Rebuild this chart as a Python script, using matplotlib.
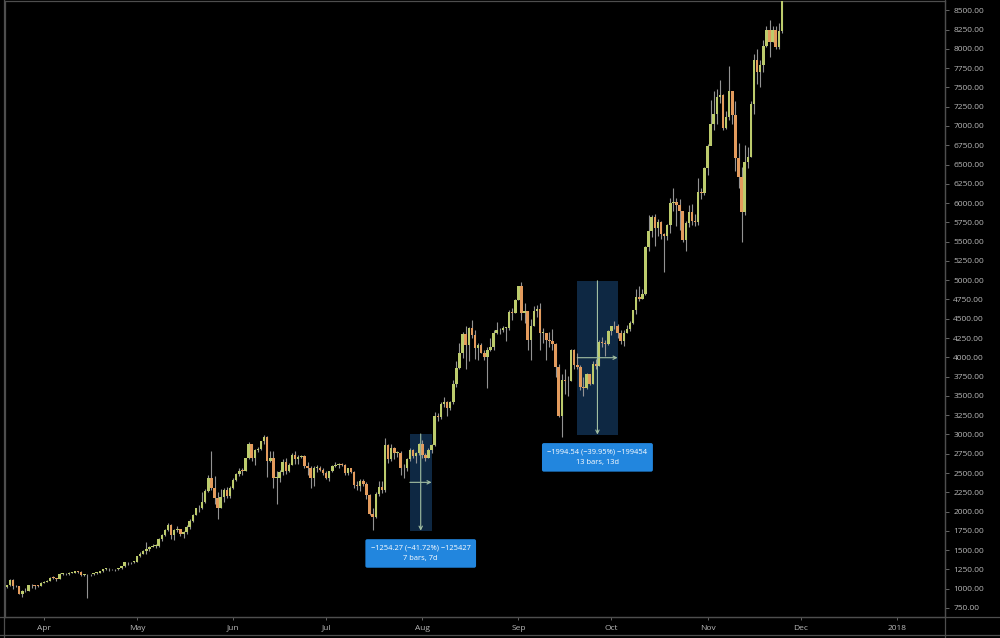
import numpy as np
import matplotlib
matplotlib.use('Agg')
import matplotlib.pyplot as plt
import matplotlib.dates as mdates
from matplotlib.lines import Line2D

# ---------------- data (daily candles, 2017-03-19 .. 2017-11-25) ----------------
first_open = 970

close_mar = [1022,1045,1115,1040,1030,935,965,970,1045,1045,1040,1035,1080]
high_mar  = [1055,1050,1120,1120,1050,1035,985,1005,1050,1060,1050,1045,1085]
low_mar   = [965,1015,1040,1000,1020,925,890,955,970,1015,1000,1025,1030]

close_apr = [1090,1100,1145,1140,1130,1195,1195,1185,1210,1210,1225,1220,1180,1185,1185,
             1185,1205,1210,1225,1255,1260,1250,1250,1250,1265,1290,1345,1340,1345,1350]
high_apr  = [1100,1110,1150,1160,1145,1200,1200,1200,1215,1215,1230,1230,1225,1195,1195,
             1190,1210,1215,1230,1260,1265,1265,1260,1255,1270,1300,1350,1350,1350,1365]
low_apr   = [1070,1085,1095,1125,1105,1130,1175,1175,1175,1200,1205,1210,1160,1170,880,
             1170,1180,1195,1205,1220,1240,1230,1240,1235,1245,1260,1285,1310,1325,1330]

close_may = [1420,1455,1490,1515,1535,1555,1555,1640,1700,1760,1820,1690,1760,1775,1710,1730,
             1800,1880,1960,2040,2045,2125,2265,2440,2300,2170,2050,2190,2280,2200,2300]
high_may  = [1425,1470,1500,1600,1560,1580,1580,1660,1715,1770,1850,1840,1770,1810,1780,1750,
             1830,1900,1970,2050,2080,2260,2290,2480,2790,2460,2250,2290,2300,2320,2330]
low_may   = [1345,1405,1450,1450,1490,1535,1530,1545,1615,1680,1750,1640,1630,1730,1680,1660,
             1710,1780,1870,1950,1990,2030,2110,2260,2280,2100,1900,2050,2120,2180,2180]

close_jun = [2410,2490,2530,2525,2690,2870,2690,2800,2810,2910,2970,2650,2700,2440,2440,
             2510,2640,2520,2600,2740,2680,2710,2720,2590,2570,2440,2570,2570,2540,2500]
high_jun  = [2440,2500,2560,2560,2700,2900,2880,2810,2840,2920,2990,2980,2790,2790,2520,
             2540,2680,2690,2630,2760,2780,2730,2740,2730,2640,2590,2590,2600,2590,2570]
low_jun   = [2290,2400,2460,2480,2520,2680,2650,2610,2770,2800,2880,2450,2640,2300,2100,
             2390,2470,2490,2510,2600,2620,2620,2690,2560,2480,2300,2330,2510,2520,2480]

close_jul = [2430,2520,2590,2610,2620,2610,2500,2560,2510,2340,2330,2400,2360,2220,1970,1930,
             2230,2320,2280,2860,2680,2830,2760,2760,2560,2560,2680,2800,2720,2760,2870]
high_jul  = [2520,2530,2600,2640,2630,2630,2620,2570,2570,2530,2400,2420,2420,2380,2230,2050,
             2250,2400,2400,2950,2870,2880,2840,2780,2780,2620,2690,2830,2810,2770,2890]
low_jul   = [2420,2400,2510,2580,2560,2590,2480,2480,2500,2300,2280,2270,2330,2160,1960,1760,
             1920,2200,2240,2260,2630,2650,2680,2710,2470,2440,2530,2660,2700,2630,2740]

close_aug = [2730,2700,2800,2860,3240,3230,3400,3420,3340,3420,3650,3860,4060,4300,4160,4380,
             4290,4120,4160,4060,4000,4090,4140,4320,4360,4350,4380,4380,4590,4580,4740]
high_aug  = [2930,2760,2820,2880,3290,3280,3420,3480,3440,3440,3710,3950,4180,4330,4400,4390,
             4480,4360,4190,4190,4100,4130,4250,4350,4460,4380,4400,4390,4620,4640,4750]
low_aug   = [2690,2650,2690,2760,2850,3180,3200,3360,3240,3320,3400,3620,3850,3990,3850,3950,
             4250,3980,3960,4050,3970,3600,4080,4100,4300,4300,4330,4210,4350,4480,4580]

close_sep = [4920,4580,4600,4230,4400,4600,4630,4320,4320,4230,4210,4170,3870,3240,3700,
             3690,3690,4090,3900,3880,3610,3600,3780,3660,3920,3890,4200,4190,4170,4340]
high_sep  = [4930,4980,4710,4600,4500,4670,4680,4700,4380,4320,4330,4370,4180,3920,3790,
             3850,3760,4110,4110,4050,3900,3750,3800,3790,3950,3980,4220,4260,4220,4360]
low_sep   = [4740,4480,4450,4100,3970,4400,4520,4100,4180,3960,4130,4100,3750,3220,2970,
             3520,3500,3690,3850,3850,3580,3500,3590,3640,3660,3850,3890,4140,4020,4160]

close_oct = [4400,4400,4310,4210,4320,4370,4440,4610,4780,4760,4820,5430,5640,5820,5680,5750,
             5600,5570,5710,6000,6010,5980,5900,5520,5740,5890,5770,5750,6150,6130,6450]
high_oct  = [4410,4470,4430,4350,4350,4420,4470,4620,4880,4920,4880,5440,5850,5840,5860,5790,
             5770,5610,5730,6070,6200,6060,6050,5900,5770,5980,5990,5860,6320,6200,6470]
low_oct   = [4290,4370,4250,4170,4150,4310,4340,4430,4560,4730,4760,4810,5380,5560,5450,5570,
             5540,5110,5520,5610,5900,5700,5650,5500,5380,5690,5710,5700,5720,6050,6100]

close_nov = [6740,7030,7160,7380,7400,6980,7120,7460,7140,6590,6340,5880,6530,6600,7280,
             7850,7700,7790,8040,8250,8090,8250,8030,8230,8750]
high_nov  = [6760,7340,7450,7480,7600,7420,7200,7780,7460,7330,6780,6470,6750,6730,7330,
             7930,8000,7860,8120,8300,8370,8300,8300,8330,8800]
low_nov   = [6370,6750,6950,7030,7300,6950,6960,7080,7030,6420,6200,5500,5850,6450,6600,
             7150,7540,7500,7700,8030,7900,8090,8000,8000,8200]

month_ticks = ['2017-04-01','2017-05-01','2017-06-01','2017-07-01','2017-08-01',
               '2017-09-01','2017-10-01','2017-11-01','2017-12-01','2018-01-01']
month_labels = ['Apr','May','Jun','Jul','Aug','Sep','Oct','Nov','Dec','2018']

# measurement tools: (start date, end date, top price, bottom price, label)
range1 = ('2017-07-28', '2017-08-04', 3006.4, 1752.1,
          '\u22121254.27 (\u221241.72%) \u2212125427\n7 bars, 7d')
range2 = ('2017-09-20', '2017-10-03', 4992.6, 2998.1,
          '\u22121994.54 (\u221239.95%) \u2212199454\n13 bars, 13d')

# ---------------- assemble ----------------
closes = np.array(close_mar + close_apr + close_may + close_jun + close_jul +
                  close_aug + close_sep + close_oct + close_nov, dtype=float)
highs = np.array(high_mar + high_apr + high_may + high_jun + high_jul +
                 high_aug + high_sep + high_oct + high_nov, dtype=float)
lows = np.array(low_mar + low_apr + low_may + low_jun + low_jul +
                low_aug + low_sep + low_oct + low_nov, dtype=float)
opens = np.concatenate([[first_open], closes[:-1]])
days = np.arange(np.datetime64('2017-03-19'), np.datetime64('2017-11-26'))
x = mdates.date2num(days)
assert len(x) == len(closes) == len(highs) == len(lows)

UP = '#bccb6c'
DOWN = '#e39b5d'
WICK = '#939393'
FRAME = '#4e4e4e'
TXT = '#b8b8b8'
FONT = ['Open Sans', 'DejaVu Sans']

fig = plt.figure(figsize=(10, 6.38), dpi=100, facecolor='black')
ax = fig.add_axes([0.005, 21/638, 0.940, 1 - 21/638 - 0.002])
ax.set_facecolor('black')

# measurement boxes (behind candles)
for (d0, d1, top, bot, label) in (range1, range2):
    x0 = mdates.date2num(np.datetime64(d0))
    x1 = mdates.date2num(np.datetime64(d1))
    ax.add_patch(plt.Rectangle((x0, bot), x1 - x0, top - bot,
                               facecolor='#0e2843', edgecolor='none', zorder=0.5))

# candles
up = closes >= opens
ax.vlines(x, lows, highs, color=WICK, linewidth=0.8, zorder=2)
body_bottom = np.minimum(opens, closes)
body_h = np.maximum(np.abs(closes - opens), 8)
colors = np.where(up, UP, DOWN)
ax.bar(x, body_h, bottom=body_bottom, width=0.8, color=colors,
       edgecolor='none', linewidth=0, zorder=3)

# measurement arrows + labels
LINE = '#a3c0a3'
for (d0, d1, top, bot, label) in (range1, range2):
    x0 = mdates.date2num(np.datetime64(d0))
    x1 = mdates.date2num(np.datetime64(d1))
    mx = (x0 + x1) / 2
    my = (top + bot) / 2
    ax.annotate('', xy=(mx, bot), xytext=(mx, top),
                arrowprops=dict(arrowstyle='->', color=LINE, lw=0.8,
                                shrinkA=0, shrinkB=0, mutation_scale=6), zorder=4)
    ax.annotate('', xy=(x1, my), xytext=(x0, my),
                arrowprops=dict(arrowstyle='->', color=LINE, lw=0.8,
                                shrinkA=0, shrinkB=0, mutation_scale=6), zorder=4)
    ax.annotate(label, xy=(mx, bot), xytext=(0, -10), textcoords='offset points',
                ha='center', va='top', color='white', fontsize=5.4, family=FONT,
                linespacing=1.75, multialignment='center',
                bbox=dict(boxstyle='round,pad=0.72,rounding_size=0.25',
                          fc='#2286de', ec='none'), zorder=6)

# axes limits
apr1 = mdates.date2num(np.datetime64('2017-04-01'))
ax.set_xlim(apr1 - 12.58, apr1 + 290.6)
ax.set_ylim(633, 8617)

# y axis on right
ax.yaxis.tick_right()
yt = np.arange(750, 8501, 250)
ax.set_yticks(yt)
ax.set_yticklabels(['%.2f' % v for v in yt], family=FONT, fontsize=6.0, color=TXT)
ax.tick_params(axis='y', direction='out', length=3, width=0.6, color='#777777', pad=3)

xt = [mdates.date2num(np.datetime64(d)) for d in month_ticks]
ax.set_xticks(xt)
ax.set_xticklabels(month_labels, family=FONT, fontsize=6.0, color=TXT)
ax.tick_params(axis='x', direction='out', length=2, width=0.6, color='#777777', pad=3.5)

for s in ax.spines.values():
    s.set_color(FRAME)
    s.set_linewidth(0.9)

# outer frame lines (figure coords)
def fline(xs, ys):
    fig.add_artist(Line2D(xs, ys, transform=fig.transFigure, color=FRAME, linewidth=0.9))

fline([0.945, 0.945], [0.0, 1.0])          # right axis separator
fline([0.0, 1.0], [21/638, 21/638])        # time-axis line
fline([0.0, 1.0], [3/638, 3/638])          # bottom border
fline([0.004, 0.004], [0.0, 1.0])          # left border

fig.savefig('out.png', dpi=100, facecolor='black')
